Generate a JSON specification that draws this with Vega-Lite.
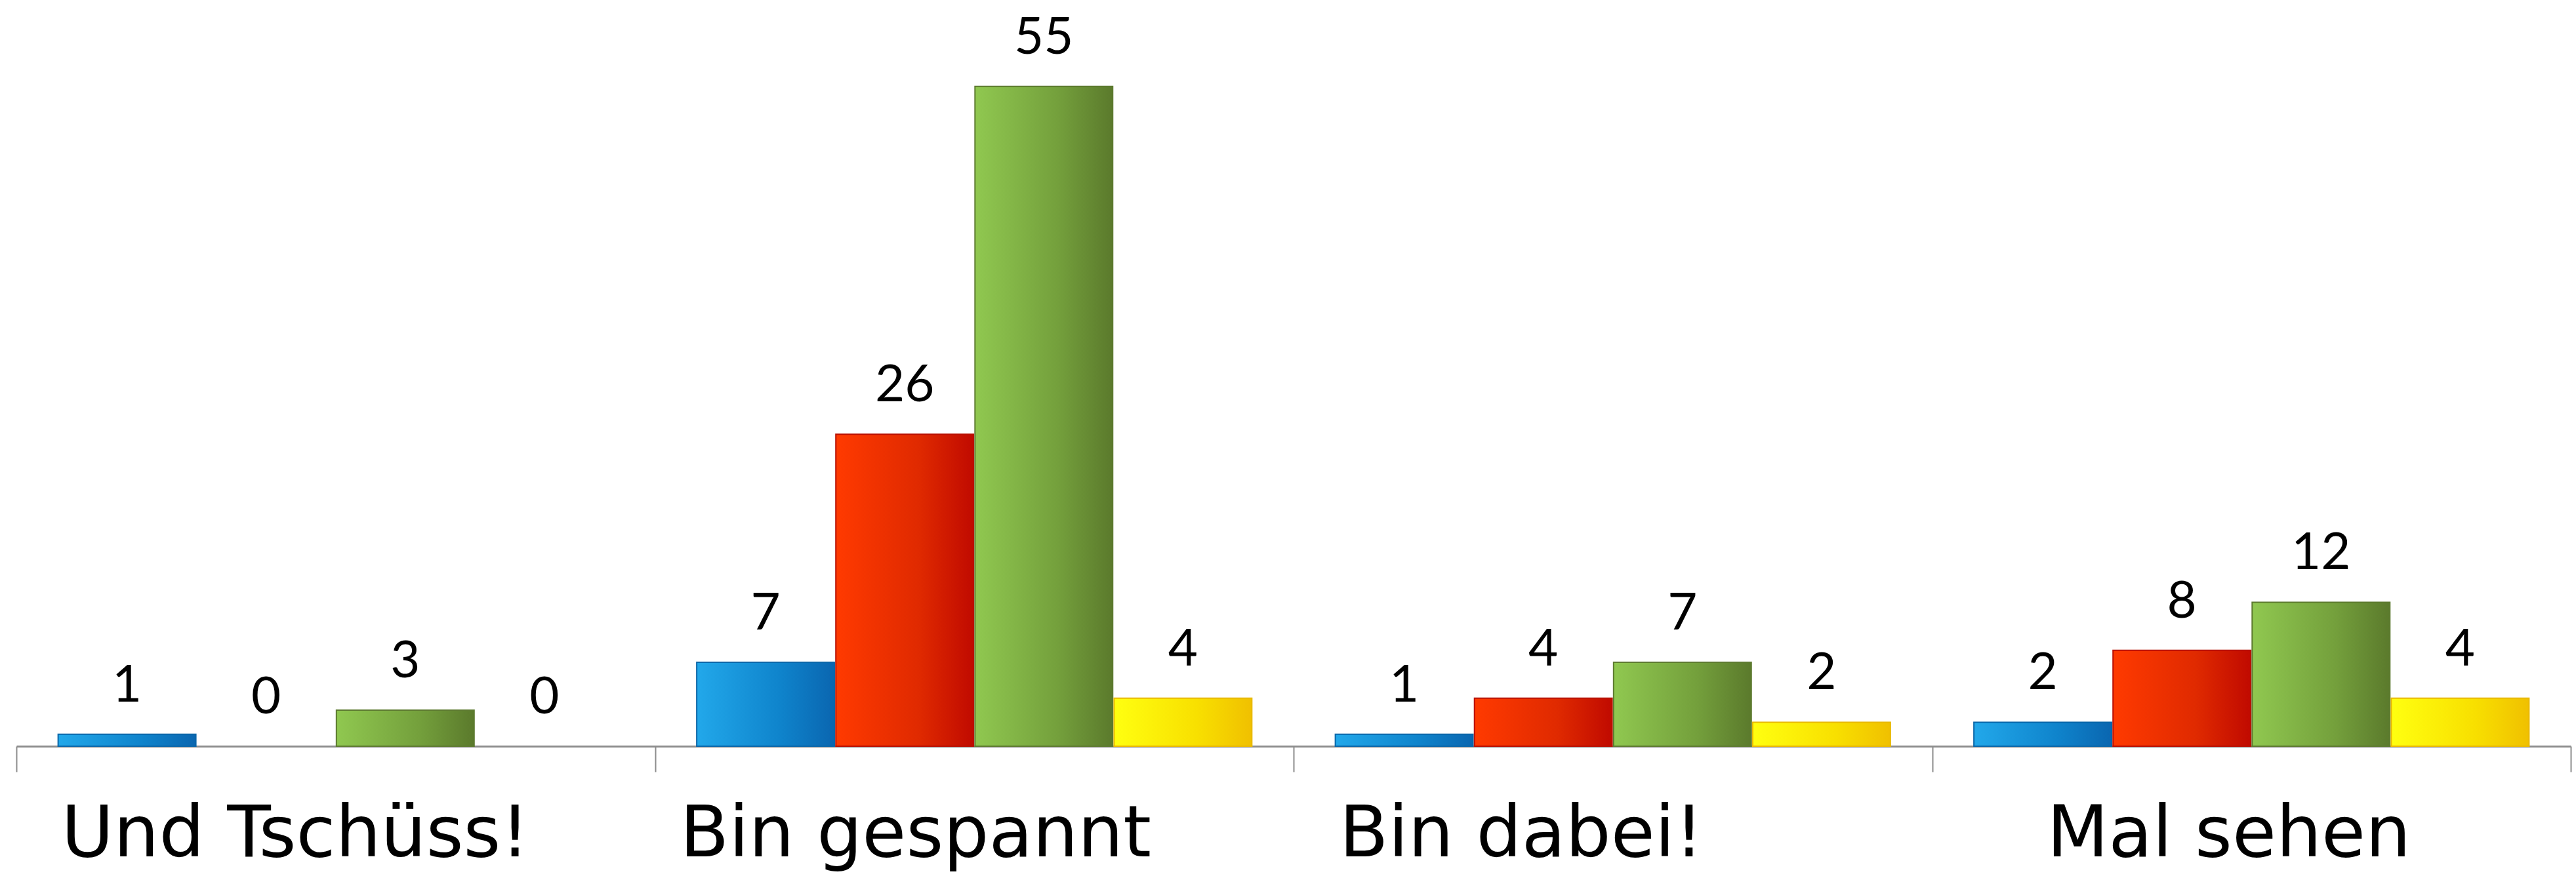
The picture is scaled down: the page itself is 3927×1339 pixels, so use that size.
{
  "$schema": "https://vega.github.io/schema/vega-lite/v6.json",
  "autosize": {"type": "none"},
  "padding": {"left": 25, "top": 0, "right": 8, "bottom": 201},
  "width": 3894,
  "height": 1138,
  "background": "white",
  "config": {"view": {"stroke": null}},
  "data": {
    "values": [
      {"kategorie": "Und Tschüss!", "serie": "Blau", "wert": 1},
      {"kategorie": "Und Tschüss!", "serie": "Rot", "wert": 0},
      {"kategorie": "Und Tschüss!", "serie": "Grün", "wert": 3},
      {"kategorie": "Und Tschüss!", "serie": "Gelb", "wert": 0},
      {"kategorie": "Bin gespannt", "serie": "Blau", "wert": 7},
      {"kategorie": "Bin gespannt", "serie": "Rot", "wert": 26},
      {"kategorie": "Bin gespannt", "serie": "Grün", "wert": 55},
      {"kategorie": "Bin gespannt", "serie": "Gelb", "wert": 4},
      {"kategorie": "Bin dabei!", "serie": "Blau", "wert": 1},
      {"kategorie": "Bin dabei!", "serie": "Rot", "wert": 4},
      {"kategorie": "Bin dabei!", "serie": "Grün", "wert": 7},
      {"kategorie": "Bin dabei!", "serie": "Gelb", "wert": 2},
      {"kategorie": "Mal sehen", "serie": "Blau", "wert": 2},
      {"kategorie": "Mal sehen", "serie": "Rot", "wert": 8},
      {"kategorie": "Mal sehen", "serie": "Grün", "wert": 12},
      {"kategorie": "Mal sehen", "serie": "Gelb", "wert": 4}
    ]
  },
  "encoding": {
    "x": {
      "field": "kategorie",
      "type": "nominal",
      "sort": null,
      "scale": {"paddingInner": 0, "paddingOuter": 0},
      "axis": {
        "title": null,
        "labelAngle": 0,
        "labelFont": "DejaVu Sans",
        "labelFontSize": 109,
        "labelColor": "#000000",
        "labelBaseline": "top",
        "labelPadding": 42,
        "labelLimit": 0,
        "labelOffset": {
          "condition": [
            {"test": "datum.value === 'Und Tschüss!'", "value": -62},
            {"test": "datum.value === 'Bin gespannt'", "value": -90},
            {"test": "datum.value === 'Bin dabei!'", "value": -140}
          ],
          "value": -35
        },
        "tickBand": "extent",
        "tickSize": 39,
        "tickWidth": 2,
        "tickColor": "#8c8c8c",
        "domainColor": "#8c8c8c",
        "domainWidth": 3
      }
    },
    "xOffset": {
      "field": "serie",
      "type": "nominal",
      "scale": {"domain": ["Blau", "Rot", "Grün", "Gelb"], "paddingOuter": 0.3, "paddingInner": 0.01}
    },
    "y": {
      "field": "wert",
      "type": "quantitative",
      "scale": {"domain": [0, 62.2], "nice": false, "zero": true},
      "axis": null
    }
  },
  "layer": [
    {
      "transform": [{"filter": "datum.serie === 'Blau' && datum.wert > 0"}],
      "mark": {"type": "bar", "strokeWidth": 2, "stroke": "#0b66a8",
        "fill": {"gradient": "linear", "x1": 0, "y1": 0, "x2": 1, "y2": 0,
          "stops": [{"offset": 0, "color": "#22a8ea"}, {"offset": 0.6, "color": "#0f84cc"}, {"offset": 1, "color": "#0a66b0"}]}}
    },
    {
      "transform": [{"filter": "datum.serie === 'Rot' && datum.wert > 0"}],
      "mark": {"type": "bar", "strokeWidth": 2, "stroke": "#b81000",
        "fill": {"gradient": "linear", "x1": 0, "y1": 0, "x2": 1, "y2": 0,
          "stops": [{"offset": 0, "color": "#ff3a00"}, {"offset": 0.6, "color": "#e02a00"}, {"offset": 1, "color": "#c00a00"}]}}
    },
    {
      "transform": [{"filter": "datum.serie === 'Grün' && datum.wert > 0"}],
      "mark": {"type": "bar", "strokeWidth": 2, "stroke": "#5d7a30",
        "fill": {"gradient": "linear", "x1": 0, "y1": 0, "x2": 1, "y2": 0,
          "stops": [{"offset": 0, "color": "#90c850"}, {"offset": 0.6, "color": "#74a03c"}, {"offset": 1, "color": "#5b7a2c"}]}}
    },
    {
      "transform": [{"filter": "datum.serie === 'Gelb' && datum.wert > 0"}],
      "mark": {"type": "bar", "strokeWidth": 2, "stroke": "#e8b800",
        "fill": {"gradient": "linear", "x1": 0, "y1": 0, "x2": 1, "y2": 0,
          "stops": [{"offset": 0, "color": "#ffff10"}, {"offset": 0.6, "color": "#f8e000"}, {"offset": 1, "color": "#f0c000"}]}}
    },
    {
      "mark": {"type": "text", "font": "Lato", "fontSize": 78, "color": "#000000", "align": "center", "baseline": "alphabetic", "dy": -50},
      "encoding": {"text": {"field": "wert", "type": "quantitative"}}
    }
  ]
}
